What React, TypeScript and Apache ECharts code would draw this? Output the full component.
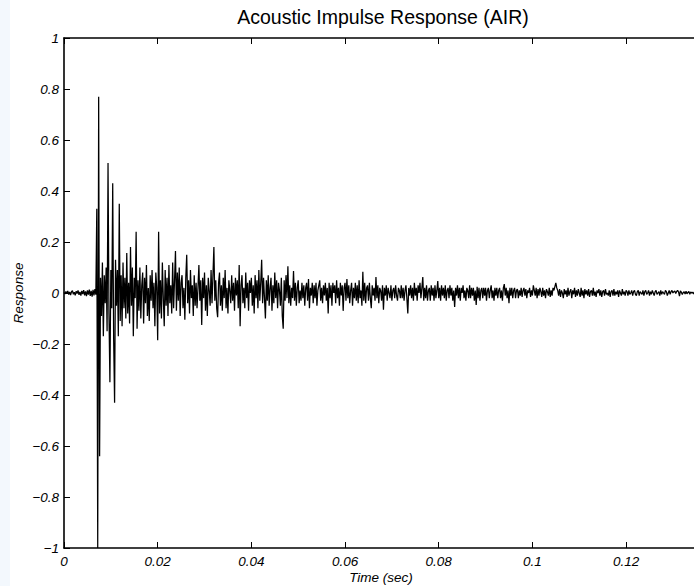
import React, { useEffect, useRef } from 'react';
import * as echarts from 'echarts';

const TITLE = 'Acoustic Impulse Response (AIR)';
const X_NAME = 'Time (sec)';
const Y_NAME = 'Response';
const SAMPLE_PERIOD = 0.0002; // seconds between samples
const X_MAX = 0.1345;

// pre-onset noise floor
const onsetNoise = [0.002, -0.004, 0.006, -0.003, 0.008, -0.006, 0.004, -0.008, 0.005, 0.009, -0.005, 0.003, -0.009, 0.007, -0.002, 0.01, -0.007, 0.004, -0.01, 0.008, -0.004, 0.011, -0.009, 0.006, -0.012, 0.01, -0.006, 0.013, -0.011, 0.008, -0.014, 0.012, -0.009, 0.015, -0.006];

// direct sound and early reflections
const directAndEarly = [0.33, -1.0, 0.77, -0.64, 0.06, -0.09, 0.12, -0.17, 0.07, -0.04, 0.1, -0.15, 0.51, -0.08, -0.35, 0.09, -0.06, 0.43, -0.18, -0.43, 0.13, -0.05, 0.09, -0.17, 0.35, -0.11, 0.07, -0.13, 0.12, -0.06, 0.06, -0.1, 0.157, -0.08, 0.04, -0.12, 0.18, -0.05, 0.1, -0.17, 0.06];

// early decay
const earlyDecay = [-0.02, 0.24, -0.14, 0.05, -0.07, 0.1, -0.1, 0.03, 0.08, -0.12, 0.06, -0.04, 0.11, -0.09, 0.02, -0.11, 0.07, -0.03, 0.09, -0.06, 0.04, -0.13, 0.08, 0.02, -0.185, 0.24, -0.08, 0.05, -0.1, 0.12, -0.02, -0.13, 0.09, -0.05, 0.06, -0.09, 0.11, -0.04, 0.03, -0.08, 0.12, -0.06, 0.05, 0.165, -0.07, 0.08, -0.03, 0.1, -0.09, 0.04, 0.07, -0.06, 0.02, -0.105, 0.06, 0.15, -0.04, 0.05, -0.08, 0.09, -0.02, 0.03, -0.09, 0.07, -0.05];

// middle decay
const midDecay = [0.04, -0.06, 0.02, 0.11, -0.03, 0.05, -0.125, 0.06, -0.02, 0.08, -0.07, 0.03, -0.09, 0.06, 0.01, -0.05, 0.09, -0.04, 0.07, 0.18, -0.03, 0.05, -0.06, -0.095, 0.04, 0.08, -0.05, 0.03, -0.07, 0.06, -0.02, 0.09, -0.06, 0.02, -0.08, 0.05, 0.01, -0.04, 0.07, -0.03, 0.04, -0.07, 0.06, -0.01, 0.05, -0.06, 0.11, -0.13, 0.03, 0.07, -0.04, 0.02, -0.06, 0.08, -0.02, 0.04, -0.07, 0.05, 0.0, 0.06, -0.05, 0.03, -0.08, 0.07, -0.02, 0.05, -0.06, 0.09, -0.03, 0.04, 0.13, -0.04, 0.06, -0.02, -0.1, 0.05, -0.03, 0.07, -0.05, 0.02, 0.06, -0.07, 0.03, -0.04, 0.08, -0.02, 0.05, -0.06, 0.04, 0.01, -0.05, 0.06, -0.09, -0.14, 0.05, -0.03, 0.07, -0.02, 0.105, -0.04];

// late decay, first part
const lateDecayA = [0.03, -0.05, 0.02, -0.02, 0.086, -0.03, 0.04, -0.05, 0.02, 0.05, -0.04, 0.01, -0.03, 0.04, -0.02, 0.03, -0.05, 0.02, 0.04, -0.03, 0.055, -0.06, 0.02, -0.01, 0.04, -0.04, 0.03, -0.02, 0.04, -0.05, 0.01, 0.03, 0.05, -0.03, 0.02, -0.04, 0.03, -0.01, 0.04, -0.03, 0.02, -0.08, 0.04, -0.02, 0.03, -0.05, 0.04, 0.0, 0.03, -0.04, 0.05, -0.02, 0.02, -0.05, 0.04, -0.01, 0.03, -0.07, 0.02, 0.04, -0.03, 0.055, -0.02, 0.03, -0.04, 0.01, 0.04, -0.05, 0.02, -0.02, 0.04, -0.03, 0.03, -0.04, 0.05, -0.02, 0.01, -0.05, 0.083, -0.03, 0.04, -0.04, 0.02, 0.03, -0.03, 0.04, -0.02, -0.06, 0.03, -0.01, 0.02, -0.03, 0.063, -0.02, 0.03, -0.04, 0.02, 0.01, -0.03, 0.03, -0.066, 0.02, -0.01, 0.03, -0.03, 0.02, 0.0, -0.02, 0.03, -0.03, 0.01, 0.02, -0.02, 0.03, -0.01, -0.03, 0.02, 0.01, -0.02, 0.03];

// late decay, second part
const lateDecayB = [-0.02, 0.02, -0.03, 0.01, 0.03, -0.02, -0.08, 0.02, -0.01, 0.03, -0.02, 0.02, -0.03, 0.04, -0.01, 0.02, -0.03, 0.03, 0.0, 0.04, -0.02, 0.02, 0.063, -0.03, 0.02, -0.02, 0.03, -0.03, 0.01, 0.02, -0.03, 0.03, -0.01, 0.02, -0.03, 0.03, -0.02, 0.01, 0.047, -0.02, 0.02, -0.03, 0.03, -0.01, 0.02, -0.02, 0.03, -0.03, 0.01, 0.02, -0.02, 0.03, -0.01, 0.02, -0.03, 0.01, -0.055, 0.02, -0.01, 0.03, -0.02, 0.02, -0.03, 0.02, 0.0, 0.03, -0.02, 0.01, -0.03, 0.02, 0.01, -0.02, 0.03, -0.02, 0.02, -0.01, 0.02, -0.03, 0.01, -0.047, 0.024, -0.02, 0.02, -0.03, 0.01, 0.02, -0.02, 0.02, -0.01, 0.02, -0.03, 0.01, 0.02, -0.02, 0.01, 0.03, -0.02, 0.01, -0.03, 0.02, -0.01, 0.02, -0.02, 0.01, 0.02, -0.02, 0.01, -0.03, 0.02, 0.035, -0.01, 0.02, -0.02, 0.01, -0.04, 0.02, -0.01, 0.02, -0.02, 0.01];

// tail
const tailA = [0.02, -0.02, 0.01, 0.015, -0.02, 0.01, -0.01, 0.02, -0.015, 0.01, 0.02, -0.01, 0.015, -0.02, 0.01, 0.0, 0.02, -0.015, 0.01, -0.01, 0.03, 0.01, -0.01, 0.02, -0.02, 0.015, -0.01, 0.02, 0.005, -0.015, 0.02, -0.01, 0.01, -0.02, 0.015, 0.005, -0.01, 0.02, -0.015, 0.01, -0.01, 0.02, 0.01, 0.025, 0.04, 0.02, 0.01, -0.01, 0.015, -0.015, 0.01, 0.0, -0.02, 0.015, -0.005, 0.01, -0.015, 0.02, -0.01, 0.005, 0.015, -0.02, 0.01, -0.005, 0.02, -0.015, 0.01, -0.01, 0.015, 0.0, -0.015, 0.02, -0.01, 0.01, -0.02, 0.015, -0.005, 0.01, -0.01, 0.015, -0.015, 0.005, 0.01, -0.01, 0.02, -0.01, 0.005, -0.015, 0.01, 0.0, 0.015, -0.01, 0.01, -0.015, 0.005, 0.01, -0.01, 0.015, -0.005, 0.0, -0.01, 0.01, -0.015, 0.005, 0.01, -0.01, 0.015, -0.01, 0.005, -0.005, 0.01, -0.015, 0.01, 0.0, -0.01, 0.015, -0.005, 0.005, -0.01, 0.01];

const tailB = [0.005, -0.01, 0.01, -0.005, 0.0, 0.01, -0.01, 0.005, 0.01, -0.005, -0.01, 0.005, 0.01, -0.01, 0.005, 0.0, -0.005, 0.01, -0.01, 0.005, 0.01, -0.005, 0.0, 0.01, -0.01, 0.005, -0.005, 0.01, 0.0, -0.01, 0.005, 0.01, -0.005, 0.0, 0.005, -0.01, 0.01, -0.005, 0.005, 0.0, -0.005, 0.01, 0.005, -0.01, 0.0, 0.01, -0.005, 0.005, 0.01, 0.0, 0.005, 0.008, -0.002, 0.006, 0.01, 0.004, -0.012, 0.008, 0.003, -0.006, 0.002, 0.005, -0.004, 0.007, -0.003, 0.002, 0.006, -0.005, 0.004, 0.0, 0.003, -0.004, 0.005, -0.002, 0.003, 0.0];

const FONT = '"Liberation Sans", Arial, Helvetica, sans-serif';

function fmtX(v: number): string {
  if (Math.abs(v) < 1e-9) return '0';
  return String(+v.toFixed(2));
}
function fmtY(v: number): string {
  if (Math.abs(v) < 1e-9) return '0';
  return String(+v.toFixed(1)).replace('-', '\u2212');
}

export default function App() {
  const ref = useRef<HTMLDivElement>(null);
  useEffect(() => {
    if (!ref.current) return;
    const chart = echarts.init(ref.current, null, { renderer: 'svg' });
    const samples = [
      ...onsetNoise, ...directAndEarly, ...earlyDecay, ...midDecay,
      ...lateDecayA, ...lateDecayB, ...tailA, ...tailB,
    ];
    const data = samples.map((v, i) => [+(i * SAMPLE_PERIOD).toFixed(6), v]);
    const labelStyle = {
      fontFamily: FONT, fontStyle: 'italic' as const, fontSize: 13.5, color: '#000',
    };
    const axisLine = { show: true, onZero: false, lineStyle: { color: '#000', width: 1.6 } };
    const axisTick = { show: true, inside: true, length: 6, lineStyle: { color: '#000', width: 1 } };
    chart.setOption({
      animation: false,
      backgroundColor: '#fff',
      title: {
        text: TITLE, left: 383, top: 7, textAlign: 'center', padding: 0,
        textStyle: { fontFamily: FONT, fontSize: 19.5, fontWeight: 'normal', color: '#000' },
      },
      grid: { left: 64, right: -8, top: 38, bottom: 38, show: false },
      xAxis: [
        {
          type: 'value', min: 0, max: X_MAX, interval: 0.02, position: 'bottom',
          axisLine, axisTick,
          axisLabel: { ...labelStyle, margin: 6, showMaxLabel: false, formatter: fmtX },
          splitLine: { show: false },
        },
        {
          type: 'value', min: 0, max: X_MAX, interval: 0.02, position: 'top',
          axisLine, axisTick,
          axisLabel: { show: false },
          splitLine: { show: false },
        },
      ],
      yAxis: {
        type: 'value', min: -1, max: 1, interval: 0.2,
        axisLine, axisTick,
        axisLabel: { ...labelStyle, margin: 5, formatter: fmtY },
        splitLine: { show: false },
      },
      series: [
        {
          type: 'line', data, xAxisIndex: 0, yAxisIndex: 0,
          showSymbol: false, symbol: 'none', clip: true,
          lineStyle: { color: '#000', width: 1.25 },
        },
      ],
      graphic: [
        {
          type: 'rect', left: 0, top: 0, z: -10, silent: true,
          shape: { x: 0, y: 0, width: 10, height: 586 },
          style: { fill: '#f3f8fd' },
        },
        {
          type: 'text', x: 18, y: 293, rotation: Math.PI / 2, silent: true,
          style: {
            text: Y_NAME, font: `italic 13.5px ${FONT}`, fill: '#000',
            align: 'center', verticalAlign: 'middle',
            textAlign: 'center', textVerticalAlign: 'middle',
          },
        },
        {
          type: 'text', x: 381, y: 577, silent: true,
          style: {
            text: X_NAME, font: `italic 13.5px ${FONT}`, fill: '#000',
            align: 'center', verticalAlign: 'middle',
            textAlign: 'center', textVerticalAlign: 'middle',
          },
        },
      ],
    });
    return () => chart.dispose();
  }, []);
  return (
    <div
      ref={ref}
      style={{ position: 'absolute', left: 0, top: 0, width: 694, height: 586 }}
    />
  );
}
